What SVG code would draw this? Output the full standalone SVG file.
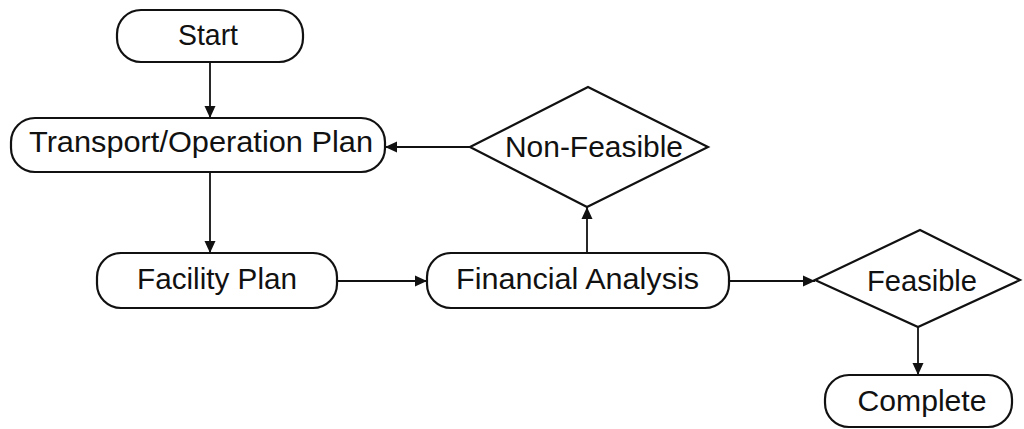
<svg xmlns="http://www.w3.org/2000/svg" width="1024" height="429" viewBox="0 0 1024 429">
<style>
.n{fill:#fff;stroke:#111;stroke-width:2.2}
.t{font-family:"Liberation Sans",Arial,sans-serif;font-size:29px;fill:#111;text-anchor:middle}
.c{stroke:#111;stroke-width:1.8;fill:none}
</style>
<defs>
<marker id="a" viewBox="0 0 12 12" refX="12" refY="6" markerWidth="12" markerHeight="12" markerUnits="userSpaceOnUse" orient="auto">
<path d="M0,0.5L12,6L0,11.5z" fill="#111"/>
</marker>
</defs>
<rect width="1024" height="429" fill="#fff"/>
<g id="connectors">
<line class="c" x1="210" y1="62" x2="210" y2="118" marker-end="url(#a)"/>
<line class="c" x1="210" y1="172" x2="210" y2="253" marker-end="url(#a)"/>
<line class="c" x1="337" y1="281" x2="427" y2="281" marker-end="url(#a)"/>
<line class="c" x1="587" y1="253" x2="587" y2="207" marker-end="url(#a)"/>
<line class="c" x1="470" y1="147" x2="385" y2="147" marker-end="url(#a)"/>
<line class="c" x1="729" y1="281" x2="815" y2="281" marker-end="url(#a)"/>
<line class="c" x1="918" y1="327" x2="918" y2="375" marker-end="url(#a)"/>
</g>
<g id="start"><rect class="n" x="117" y="10" width="186" height="52" rx="24"/><text class="t" x="208" y="45" textLength="60" lengthAdjust="spacingAndGlyphs">Start</text></g>
<g id="transport"><rect class="n" x="11" y="118" width="374" height="54" rx="24"/><text class="t" x="201" y="152" textLength="344" lengthAdjust="spacingAndGlyphs">Transport/Operation Plan</text></g>
<g id="nonfeasible"><polygon class="n" points="470,147 588,87 708,147 587,207"/><text class="t" x="594" y="157" textLength="178" lengthAdjust="spacingAndGlyphs">Non-Feasible</text></g>
<g id="facility"><rect class="n" x="97" y="253" width="240" height="55" rx="24"/><text class="t" x="217" y="289" textLength="160" lengthAdjust="spacingAndGlyphs">Facility Plan</text></g>
<g id="financial"><rect class="n" x="427" y="253" width="302" height="55" rx="24"/><text class="t" x="577.5" y="289" textLength="243" lengthAdjust="spacingAndGlyphs">Financial Analysis</text></g>
<g id="feasible"><polygon class="n" points="815,280 920,230 1020,280 918,327"/><text class="t" x="922" y="291" textLength="110" lengthAdjust="spacingAndGlyphs">Feasible</text></g>
<g id="complete"><rect class="n" x="825" y="375" width="187" height="52" rx="24"/><text class="t" x="922" y="411" textLength="129" lengthAdjust="spacingAndGlyphs">Complete</text></g>
</svg>
